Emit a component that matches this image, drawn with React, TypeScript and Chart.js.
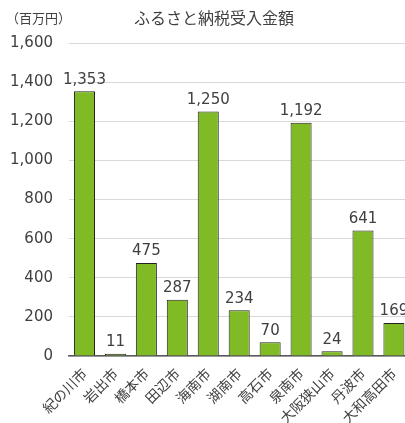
import React, { useEffect, useRef } from "react";
import { Chart, registerables } from "chart.js";

Chart.register(...registerables);

const categories = ["紀の川市", "岩出市", "橋本市", "田辺市", "海南市", "湖南市", "高石市", "泉南市", "大阪狭山市", "丹波市", "大和高田市"];
const values = [1353, 11, 475, 287, 1250, 234, 70, 1192, 24, 641, 169];
const titleText = "ふるさと納税受入金額";
const unitText = "（百万円）";

const TEXT = "#404040";
const NUM_FONT = "'DejaVu Sans', sans-serif";
const JP_FONT = "'Noto Sans CJK JP', sans-serif";

const overlay = {
  id: "overlay",
  afterDatasetsDraw(chart: any) {
    const ctx = chart.ctx;
    const meta = chart.getDatasetMeta(0);
    ctx.save();
    ctx.fillStyle = TEXT;
    ctx.font = `15px ${NUM_FONT}`;
    ctx.textAlign = "center";
    ctx.textBaseline = "bottom";
    meta.data.forEach((bar: any, i: number) => {
      ctx.fillText(values[i].toLocaleString("en-US"), bar.x, bar.y - 4);
    });
    ctx.font = `16px ${JP_FONT}`;
    ctx.textBaseline = "middle";
    ctx.textAlign = "center";
    ctx.fillText(titleText, 214, 18);
    ctx.font = `13px ${JP_FONT}`;
    ctx.textAlign = "left";
    ctx.fillText(unitText, 6, 18);
    ctx.restore();
  },
};

export default function App() {
  const ref = useRef<HTMLCanvasElement>(null);
  useEffect(() => {
    if (!ref.current) return;
    const chart = new Chart(ref.current, {
      type: "bar",
      data: {
        labels: categories,
        datasets: [
          {
            data: values,
            backgroundColor: "#80ba24",
            borderColor: "#222222",
            borderWidth: 1,
            categoryPercentage: 1,
            barPercentage: 0.68,
          },
        ],
      },
      options: {
        responsive: false,
        animation: false,
        layout: { padding: { left: 7, right: 4, top: 43, bottom: 0 } },
        plugins: { legend: { display: false }, title: { display: false }, tooltip: { enabled: false } },
        scales: {
          x: {
            grid: { display: false, drawTicks: false },
            border: { display: true, color: "#595959", width: 1.5 },
            ticks: {
              color: TEXT,
              font: { family: JP_FONT, size: 14 },
              minRotation: 45,
              maxRotation: 45,
              autoSkip: false,
              padding: 9,
            },
            afterFit: (s: any) => {
              s.height = 67;
            },
          },
          y: {
            min: 0,
            max: 1600,
            grid: { color: "#d9d9d9", drawTicks: false },
            border: { display: false },
            ticks: {
              stepSize: 200,
              color: TEXT,
              font: { family: NUM_FONT, size: 15 },
              padding: 16,
              callback: (v: any) => Number(v).toLocaleString("en-US"),
            },
            afterFit: (s: any) => {
              s.width = 62;
            },
          },
        },
      },
      plugins: [overlay],
    });
    return () => chart.destroy();
  }, []);
  return (
    <div style={{ position: "absolute", left: 0, top: 0, width: 405, height: 423, overflow: "hidden", background: "#fff" }}>
      <canvas ref={ref} width={415} height={423} style={{ width: 415, height: 423, display: "block" }} />
    </div>
  );
}
